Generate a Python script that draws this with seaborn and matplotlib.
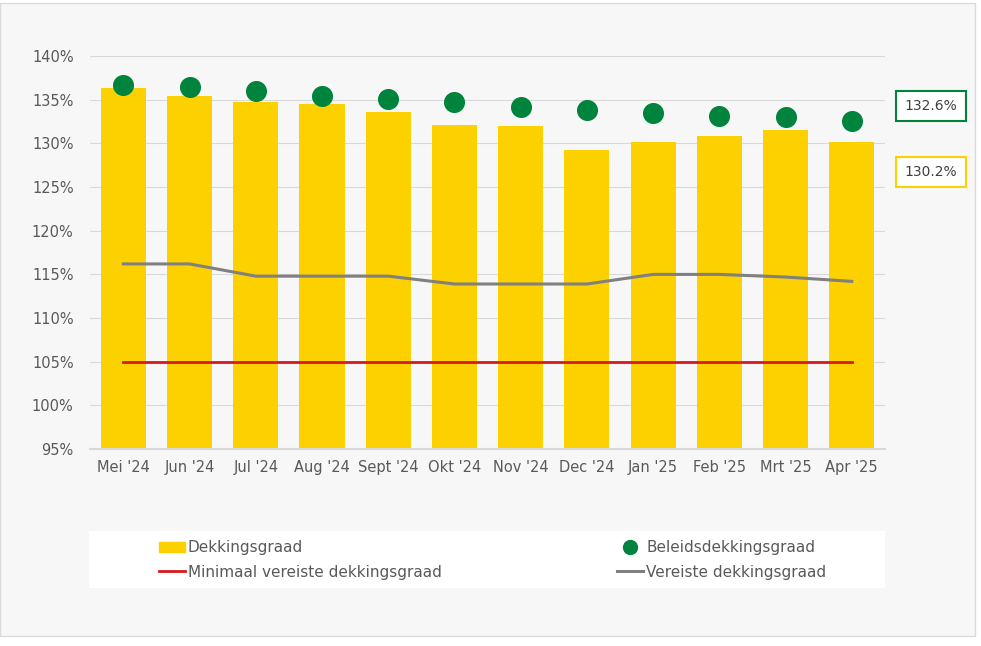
import matplotlib
matplotlib.use("Agg")
import matplotlib.pyplot as plt
import matplotlib.patches as mpatches
from matplotlib.lines import Line2D
import numpy as np
import pandas as pd
import seaborn as sns

months = ["Mei '24", "Jun '24", "Jul '24", "Aug '24", "Sept '24", "Okt '24",
          "Nov '24", "Dec '24", "Jan '25", "Feb '25", "Mrt '25", "Apr '25"]
dekkingsgraad = [136.4, 135.4, 134.7, 134.5, 133.6, 132.1, 132.0, 129.3, 130.2, 130.9, 131.5, 130.2]
beleids = [136.7, 136.5, 136.0, 135.4, 135.1, 134.7, 134.2, 133.8, 133.5, 133.2, 133.0, 132.6]
vereist = [116.2, 116.2, 114.8, 114.8, 114.8, 113.9, 113.9, 113.9, 115.0, 115.0, 114.7, 114.2]
minimaal = [105.0] * 12
yticks = [95, 100, 105, 110, 115, 120, 125, 130, 135, 140]

YELLOW = "#FDD000"
GREEN = "#00843D"
GREY = "#808080"
RED = "#D7191C"
TXT = "#595959"
BG = "#F7F7F7"

df = pd.DataFrame({"month": months, "dg": dekkingsgraad, "bdg": beleids,
                   "ver": vereist, "min": minimaal})
x = np.arange(len(months))

plt.rcParams["font.family"] = "DejaVu Sans"
fig = plt.figure(figsize=(9.81, 6.46), dpi=100, facecolor="white")
fig.patches.append(mpatches.Rectangle((0.0, 1 - 636 / 646), 975 / 981, 636 / 646 - 0.005,
                                      transform=fig.transFigure, facecolor=BG,
                                      edgecolor="#D9D9D9", lw=1, zorder=-10))
ax = fig.add_axes([0.092, 0.305, 0.81, 0.608])
ax.set_facecolor(BG)

sns.barplot(data=df, x="month", y="dg", color=YELLOW, width=0.68, ax=ax,
            saturation=1, zorder=2)
ax.plot(x, df["min"], color=RED, lw=2, zorder=3)
ax.plot(x, df["ver"], color=GREY, lw=2.2, zorder=3)
ax.scatter(x, df["bdg"], s=200, color=GREEN, zorder=4)

ax.set_ylim(95, 140)
ax.set_yticks(yticks)
ax.set_yticklabels([f"{t}%" for t in yticks])
ax.set_xlim(-0.5, len(months) - 0.5)
ax.yaxis.grid(True, color="#D9D9D9", lw=0.8, zorder=0)
ax.set_axisbelow(True)
for s in ["top", "right", "left"]:
    ax.spines[s].set_visible(False)
ax.spines["bottom"].set_color("#D9D9D9")
ax.spines["bottom"].set_linewidth(1.5)
ax.tick_params(length=0, colors=TXT, labelsize=10.5)
ax.tick_params(axis="x", pad=8)
ax.tick_params(axis="y", pad=12)
ax.set_xlabel("")
ax.set_ylabel("")

# value boxes at the right
fig.text(931 / 981, 1 - 106 / 646, f"{beleids[-1]:.1f}%", ha="center", va="center",
         fontsize=10, color="#404040",
         bbox=dict(boxstyle="square,pad=0.6", fc="white", ec=GREEN, lw=1.5))
fig.text(931 / 981, 1 - 172 / 646, f"{dekkingsgraad[-1]:.1f}%", ha="center", va="center",
         fontsize=10, color="#404040",
         bbox=dict(boxstyle="square,pad=0.6", fc="white", ec=YELLOW, lw=1.5))

# legend box
fig.patches.append(mpatches.Rectangle((89 / 981, 1 - 588 / 646), 796 / 981, 57 / 646,
                                      transform=fig.transFigure, facecolor="white",
                                      edgecolor="none", zorder=1))
handles = [mpatches.Patch(color=YELLOW),
           Line2D([], [], color=RED, lw=2),
           Line2D([], [], marker="o", ls="", color=GREEN, markersize=10),
           Line2D([], [], color=GREY, lw=2.2)]
labels = ["Dekkingsgraad", "Minimaal vereiste dekkingsgraad",
          "Beleidsdekkingsgraad", "Vereiste dekkingsgraad"]
leg = fig.legend(handles, labels, ncol=2, loc="center left",
                 bbox_to_anchor=(145 / 981, 1 - 560 / 646), frameon=False,
                 fontsize=11, labelcolor=TXT, columnspacing=11.5,
                 handlelength=1.7, handletextpad=0.2, labelspacing=0.6)

fig.savefig("out.png", dpi=100, facecolor="white")
